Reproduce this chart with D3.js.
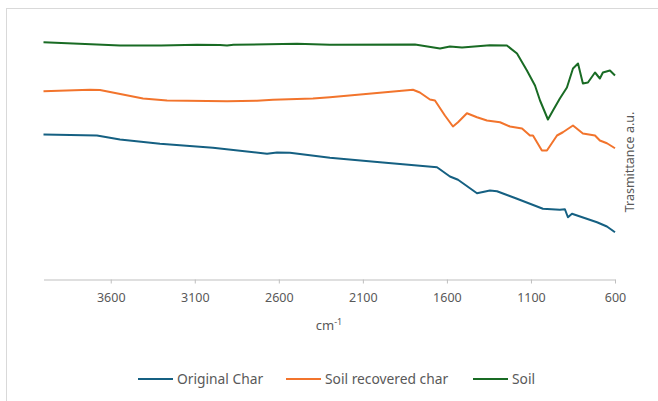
<!DOCTYPE html>
<html><head><meta charset="utf-8">
<script src="https://cdn.jsdelivr.net/npm/d3@7"></script>
<style>body{margin:0;background:#fff}svg{display:block}</style>
</head><body>
<svg id="c" width="658" height="401"></svg>
<script>
const seriesNames = ["Original Char", "Soil recovered char", "Soil"];
const seriesColors = ["#156082", "#F2742C", "#196B24"];
const xTicks = [3600, 3100, 2600, 2100, 1600, 1100, 600];

const originalChar = [
  [4000,58.0],[3682,57.6],[3545,56.0],[3307,54.3],[2992,52.7],[2670,50.3],[2611,50.8],[2534,50.7],
  [2296,48.7],[1998,46.9],[1659,44.9],[1582,41.2],[1534,39.9],[1421,34.5],[1344,35.6],[1302,35.3],
  [1183,32.3],[1029,28.3],[928,27.9],[898,28.1],[880,24.9],[856,26.3],[707,22.9],[648,21.2],[600,18.9]
];
const soilRecoveredChar = [
  [4000,75.3],[3724,75.9],[3664,75.8],[3408,72.4],[3265,71.6],[2908,71.3],[2730,71.5],[2635,71.9],
  [2397,72.4],[2296,72.9],[1802,75.9],[1761,74.8],[1701,72.0],[1671,71.6],[1612,65.6],[1564,61.2],
  [1534,62.9],[1481,66.5],[1421,64.9],[1362,63.6],[1284,62.9],[1225,61.2],[1153,60.4],[1106,57.6],
  [1088,57.6],[1035,51.6],[1005,51.6],[945,57.6],[910,58.9],[850,61.6],[791,58.4],[719,57.6],
  [690,55.6],[648,54.5],[600,52.5]
];
const soil = [
  [4000,94.9],[3682,94.0],[3545,93.6],[3300,93.6],[3087,93.9],[2950,93.8],[2908,93.6],[2870,93.9],
  [2492,94.3],[2296,93.9],[1790,94.0],[1641,92.4],[1582,93.2],[1510,92.8],[1344,93.7],[1243,93.6],
  [1183,90.4],[1124,83.6],[1076,77.6],[1046,71.6],[999,64.0],[969,67.6],[928,72.4],[886,76.8],
  [850,84.4],[820,86.4],[791,78.4],[761,78.8],[719,82.8],[690,80.4],[672,82.8],[630,83.6],[600,81.6]
];
const allSeries = [originalChar, soilRecoveredChar, soil];

const svg = d3.select("#c");
const font = "'Noto Sans', sans-serif";
const gray = "#595959";

svg.append("rect").attr("x",6.5).attr("y",8.5).attr("width",700).attr("height",500)
  .attr("fill","none").attr("stroke","#d9d9d9").attr("stroke-width",1);

const x = d3.scaleLinear().domain([4000, 600]).range([43.5, 615]);
const y = d3.scaleLinear().domain([0, 100]).range([279.5, 29.5]);

const ax = svg.append("g").attr("transform","translate(0,279.5)")
  .call(d3.axisBottom(x).tickValues(xTicks).tickFormat(d3.format("d")).tickSize(4).tickSizeOuter(0).tickPadding(10));
ax.select(".domain").attr("stroke","#bfbfbf");
ax.selectAll(".tick line").attr("stroke","#bfbfbf");
ax.selectAll(".tick text").attr("fill",gray).style("font-family",font).style("font-size","12.5px");

const line = d3.line().x(d=>x(d[0])).y(d=>y(d[1]));
allSeries.forEach((s,i)=>{
  svg.append("path").datum(s).attr("d",line).attr("fill","none")
    .attr("stroke",seriesColors[i]).attr("stroke-width",2).attr("stroke-linejoin","round");
});

const xl = svg.append("text").attr("x",329).attr("y",330).attr("text-anchor","middle")
  .attr("fill",gray).style("font-family",font).style("font-size","13px");
xl.append("tspan").text("cm");
xl.append("tspan").attr("dy",-5).style("font-size","9px").text("-1");

svg.append("text").attr("transform","translate(634,162) rotate(-90)").attr("text-anchor","middle")
  .attr("fill",gray).style("font-family",font).style("font-size","12.5px").text("Trasmittance a.u.");

const legX = [138, 286, 473];
seriesNames.forEach((n,i)=>{
  const g = svg.append("g").attr("transform",`translate(${legX[i]},379)`);
  g.append("line").attr("x1",0).attr("x2",35).attr("y1",0).attr("y2",0)
    .attr("stroke",seriesColors[i]).attr("stroke-width",2);
  g.append("text").attr("x",39).attr("y",4.8).attr("fill",gray)
    .style("font-family",font).style("font-size","13.8px").text(n);
});
</script>
</body></html>
